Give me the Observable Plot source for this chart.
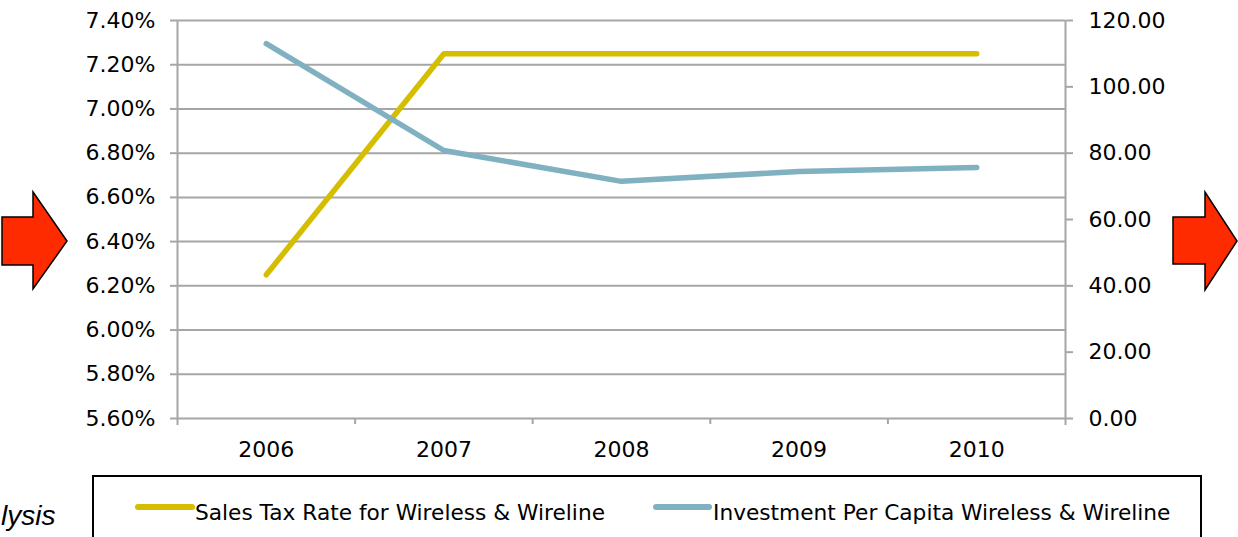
<!DOCTYPE html>
<html>
<head>
<meta charset="utf-8">
<script src="https://cdn.jsdelivr.net/npm/d3@7"></script>
<script src="https://cdn.jsdelivr.net/npm/@observablehq/plot@0.6"></script>
<style>
  body { margin: 0; background: #fff; overflow: hidden; }
  #wrap { position: relative; width: 1238px; height: 537px; overflow: hidden; font-family: "DejaVu Sans", sans-serif; }
  #chart { position: absolute; left: 0; top: 0; }
  #deco { position: absolute; left: 0; top: 0; pointer-events: none; }
  #note { position: absolute; left: 1px; top: 500px; white-space: nowrap;
          font-family: "Liberation Sans", Arial, sans-serif; font-style: italic; font-size: 28px; color: #000; }
</style>
</head>
<body>
<div id="wrap">
  <div id="chart"></div>
  <div id="note">lysis</div>
  <svg id="deco" width="1238" height="537"></svg>
</div>
<script>
// ---- data ----
const years = [2006, 2007, 2008, 2009, 2010];
const salesTaxRate = [6.25, 7.25, 7.25, 7.25, 7.25];          // percent (left axis)
const investmentPerCapita = [113.0, 80.8, 71.5, 74.5, 75.7];   // right axis
const leftTicks = [5.6, 5.8, 6.0, 6.2, 6.4, 6.6, 6.8, 7.0, 7.2, 7.4];
const rightTicks = [0, 20, 40, 60, 80, 100, 120];
const seriesNames = ["Sales Tax Rate for Wireless & Wireline", "Investment Per Capita Wireless & Wireline"];
const seriesColors = ["#D5BD00", "#80B1C0"];

// ---- scale helpers for the secondary axis ----
const leftDomain = [5.6, 7.4];
const rightDomain = [0, 120];
const toLeft = v => leftDomain[0] + (v - rightDomain[0]) / (rightDomain[1] - rightDomain[0]) * (leftDomain[1] - leftDomain[0]);
const fromLeft = y => rightDomain[0] + (y - leftDomain[0]) / (leftDomain[1] - leftDomain[0]) * (rightDomain[1] - rightDomain[0]);

const salesData = years.map((y, i) => ({year: y, value: salesTaxRate[i]}));
const invData = years.map((y, i) => ({year: y, value: investmentPerCapita[i]}));
const boundaries = years.slice(0, -1).map(y => y + 0.5);
const grid = "#A6A6A6";

const chart = Plot.plot({
  width: 1238,
  height: 470,
  marginLeft: 177,
  marginRight: 173,
  marginTop: 20,
  marginBottom: 52,
  style: { fontFamily: "DejaVu Sans, sans-serif", fontSize: "22px", color: "#000", background: "transparent", overflow: "visible" },
  x: { domain: [years[0] - 0.5, years[years.length - 1] + 0.5] },
  y: { domain: leftDomain },
  marks: [
    Plot.gridY(leftTicks, { stroke: grid, strokeOpacity: 1, strokeWidth: 2 }),
    Plot.ruleX([years[0] - 0.5, years[years.length - 1] + 0.5], { stroke: grid, strokeWidth: 2, insetBottom: -7 }),
    Plot.axisY(leftTicks, { anchor: "left", tickSize: 7, tickPadding: 15, stroke: grid, strokeWidth: 2, strokeOpacity: 1,
      fill: "#000", fontSize: 22, tickFormat: d => d.toFixed(2) + "%", label: null }),
    Plot.axisY(rightTicks.map(toLeft), { anchor: "right", tickSize: 7, tickPadding: 16, stroke: grid, strokeWidth: 2, strokeOpacity: 1,
      fill: "#000", fontSize: 22, tickFormat: d => fromLeft(d).toFixed(2), label: null }),
    Plot.axisX(boundaries, { anchor: "bottom", tickSize: 6, stroke: grid, strokeWidth: 2, strokeOpacity: 1, tickFormat: () => "", label: null }),
    Plot.axisX(years, { anchor: "bottom", tickSize: 0, tickPadding: 23, fill: "#000", fontSize: 22, tickFormat: d => String(d), label: null }),
    Plot.line(salesData, { x: "year", y: "value", stroke: seriesColors[0], strokeWidth: 5.5, strokeLinecap: "round", strokeLinejoin: "round" }),
    Plot.line(invData, { x: "year", y: d => toLeft(d.value), stroke: seriesColors[1], strokeWidth: 5.5, strokeLinecap: "round", strokeLinejoin: "round" })
  ]
});
document.getElementById("chart").appendChild(chart);

// ---- decorations: legend box and arrows ----
const deco = d3.select("#deco");
deco.append("rect").attr("x", 93).attr("y", 476).attr("width", 1108).attr("height", 90)
  .attr("fill", "none").attr("stroke", "#000").attr("stroke-width", 2);
const legendPos = [{x0: 138, x1: 192, tx: 195}, {x0: 656, x1: 709, tx: 713}];
seriesNames.forEach((name, i) => {
  const p = legendPos[i];
  deco.append("line").attr("x1", p.x0).attr("x2", p.x1).attr("y1", 507).attr("y2", 507)
    .attr("stroke", seriesColors[i]).attr("stroke-width", 6).attr("stroke-linecap", "round");
  deco.append("text").attr("x", p.tx).attr("y", 520).attr("font-family", "DejaVu Sans, sans-serif")
    .attr("font-size", 21.7).attr("fill", "#000").text(name);
});
const arrowL = [[2,217],[33,217],[33,192],[67,241],[33,289],[33,265],[2,265]];
const arrowR = [[1173,217],[1205,217],[1205,192],[1237,241],[1205,290],[1205,264],[1173,264]];
[arrowL, arrowR].forEach(pts => {
  deco.append("polygon").attr("points", pts.map(p => p.join(",")).join(" "))
    .attr("fill", "#FF2B00").attr("stroke", "#000").attr("stroke-width", 1.5).attr("stroke-linejoin", "miter");
});
</script>
</body>
</html>
